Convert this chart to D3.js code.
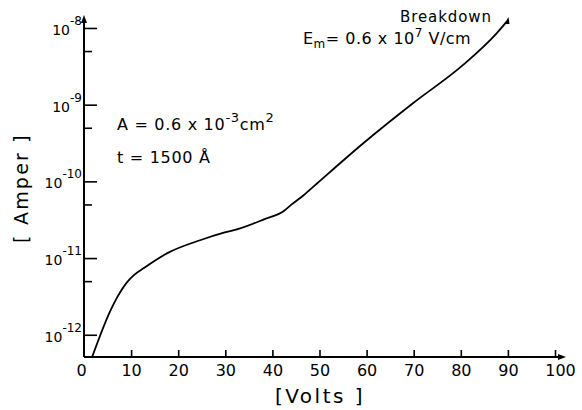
<!DOCTYPE html>
<html>
<head>
<meta charset="utf-8">
<script src="https://cdn.jsdelivr.net/npm/d3@7"></script>
<style>
  body { margin: 0; background: #fff; }
  svg { display: block; font-family: "DejaVu Sans", sans-serif; }
  text { fill: #000; }
</style>
</head>
<body>
<svg width="582" height="410"></svg>
<script>
// measured I-V curve (volts, amperes)
var volts = [1.76, 5.66, 7.07, 9.2, 10.6, 12.7, 17.7, 24.8, 29.7, 33.3, 38.2, 42.5, 43.9, 46.7, 49.4, 59.3, 69.9, 80.5, 87.6, 89.7];
var amps = [5.2e-13, 2.1e-12, 3.1e-12, 4.9e-12, 6.0e-12, 7.4e-12, 1.16e-11, 1.72e-11, 2.14e-11, 2.45e-11, 3.2e-11, 4.15e-11, 4.9e-11, 6.65e-11, 9.3e-11, 3.14e-10, 1.05e-9, 3.3e-9, 8.5e-9, 1.2e-8];

var xTicks = [0, 10, 20, 30, 40, 50, 60, 70, 80, 90, 100];
var yMajor = [1e-12, 1e-11, 1e-10, 1e-9, 1e-8];
var yMinor = [5e-12, 5e-11, 5e-10, 5e-9];
var yExps = ["-12", "-11", "-10", "-9", "-8"];

var svg = d3.select("svg");

var x = d3.scaleLinear().domain([0, 100]).range([84, 555]);
var y = d3.scaleLog().domain([Math.pow(10, -12.29), Math.pow(10, -7.87)]).range([357, 18]);

var stroke = "#000";

// axis lines with arrowheads
svg.append("line")
  .attr("x1", x(0)).attr("x2", 561)
  .attr("y1", y.range()[0]).attr("y2", y.range()[0])
  .attr("stroke", stroke).attr("stroke-width", 2);
svg.append("path")
  .attr("d", "M566," + y.range()[0] + "L558," + (y.range()[0] - 3) + "L558," + (y.range()[0] + 3) + "Z")
  .attr("fill", stroke);

svg.append("line")
  .attr("x1", x(0)).attr("x2", x(0))
  .attr("y1", y.range()[0]).attr("y2", 20)
  .attr("stroke", stroke).attr("stroke-width", 2);
svg.append("path")
  .attr("d", "M" + x(0) + ",15L" + (x(0) - 3) + ",23L" + (x(0) + 3) + ",23Z")
  .attr("fill", stroke);

// x axis ticks (pointing up) and labels
var xAxis = d3.axisBottom(x)
  .tickValues(xTicks)
  .tickSizeInner(-7)
  .tickSizeOuter(0)
  .tickPadding(8)
  .tickFormat(d3.format("d"));

var gx = svg.append("g")
  .attr("transform", "translate(0," + y.range()[0] + ")")
  .call(xAxis);
gx.select(".domain").remove();
gx.selectAll(".tick line").attr("stroke", stroke).attr("stroke-width", 1.6)
  .filter(function(d) { return d === 0; }).remove();
gx.selectAll(".tick text")
  .attr("font-size", 16)
  .attr("font-family", "DejaVu Sans, sans-serif")
  .attr("fill", stroke)
  .attr("dx", function(d) { return d === 0 ? -3 : (d === 100 ? 5 : 0); });

// y axis major ticks (pointing right)
var yAxis = d3.axisLeft(y)
  .tickValues(yMajor)
  .tickSizeInner(-13)
  .tickSizeOuter(0)
  .tickFormat("");
var gy = svg.append("g")
  .attr("transform", "translate(" + x(0) + ",0)")
  .call(yAxis);
gy.select(".domain").remove();
gy.selectAll(".tick line").attr("stroke", stroke).attr("stroke-width", 1.6);

var yAxisMinor = d3.axisLeft(y)
  .tickValues(yMinor)
  .tickSizeInner(-8)
  .tickSizeOuter(0)
  .tickFormat("");
var gym = svg.append("g")
  .attr("transform", "translate(" + x(0) + ",0)")
  .call(yAxisMinor);
gym.select(".domain").remove();
gym.selectAll(".tick line").attr("stroke", stroke).attr("stroke-width", 1.6);

// y tick labels as 10^n
var ylab = svg.append("g").selectAll("text")
  .data(yMajor)
  .enter().append("text")
  .attr("x", 82)
  .attr("y", function(d) { return y(d) + 7; })
  .attr("text-anchor", "end")
  .attr("font-size", 14);
ylab.append("tspan").text("10");
ylab.append("tspan")
  .attr("dy", -10)
  .attr("font-size", 12)
  .text(function(d, i) { return yExps[i]; });

// curve
var line = d3.line()
  .x(function(d) { return x(d[0]); })
  .y(function(d) { return y(d[1]); })
  .curve(d3.curveMonotoneX);

var pts = volts.map(function(v, i) { return [v, amps[i]]; });

svg.append("path")
  .datum(pts)
  .attr("d", line)
  .attr("fill", "none")
  .attr("stroke", stroke)
  .attr("stroke-width", 1.8);

// breakdown hook at end of curve
var last = pts[pts.length - 1];
var lx = x(last[0]), ly = y(last[1]);
svg.append("path")
  .attr("d", "M" + (lx + 2) + "," + (ly - 5) + "L" + (lx - 2) + "," + (ly + 2) + "L" + (lx + 3) + "," + (ly + 2) + "Z")
  .attr("fill", stroke);

// annotations
svg.append("text")
  .attr("x", 400).attr("y", 22)
  .attr("font-size", 15)
  .attr("letter-spacing", 0.9)
  .text("Breakdown");

var em = svg.append("text")
  .attr("x", 303).attr("y", 44)
  .attr("font-size", 16)
  .attr("letter-spacing", 0.5);
em.append("tspan").text("E");
em.append("tspan").attr("dy", 4).attr("font-size", 12).text("m");
em.append("tspan").attr("dy", -4).text("= 0.6 x 10");
em.append("tspan").attr("dy", -7).attr("font-size", 12).text("7");
em.append("tspan").attr("dy", 7).text(" V/cm");

var at = svg.append("text")
  .attr("x", 117).attr("y", 130)
  .attr("font-size", 16)
  .attr("letter-spacing", 0.7);
at.append("tspan").text("A = 0.6 x 10");
at.append("tspan").attr("dy", -8).attr("font-size", 13).text("-3");
at.append("tspan").attr("dy", 8).text("cm");
at.append("tspan").attr("dy", -8).attr("font-size", 13).text("2");

svg.append("text")
  .attr("x", 117).attr("y", 163)
  .attr("font-size", 16)
  .attr("letter-spacing", 0.7)
  .text("t = 1500 \u00C5");

// axis titles
svg.append("text")
  .attr("x", 320).attr("y", 403)
  .attr("text-anchor", "middle")
  .attr("font-size", 20)
  .attr("letter-spacing", 2.5)
  .text("[Volts ]");

svg.append("text")
  .attr("transform", "translate(28,188) rotate(-90)")
  .attr("text-anchor", "middle")
  .attr("font-size", 19)
  .attr("letter-spacing", 2.2)
  .text("[ Amper ]");
</script>
</body>
</html>
